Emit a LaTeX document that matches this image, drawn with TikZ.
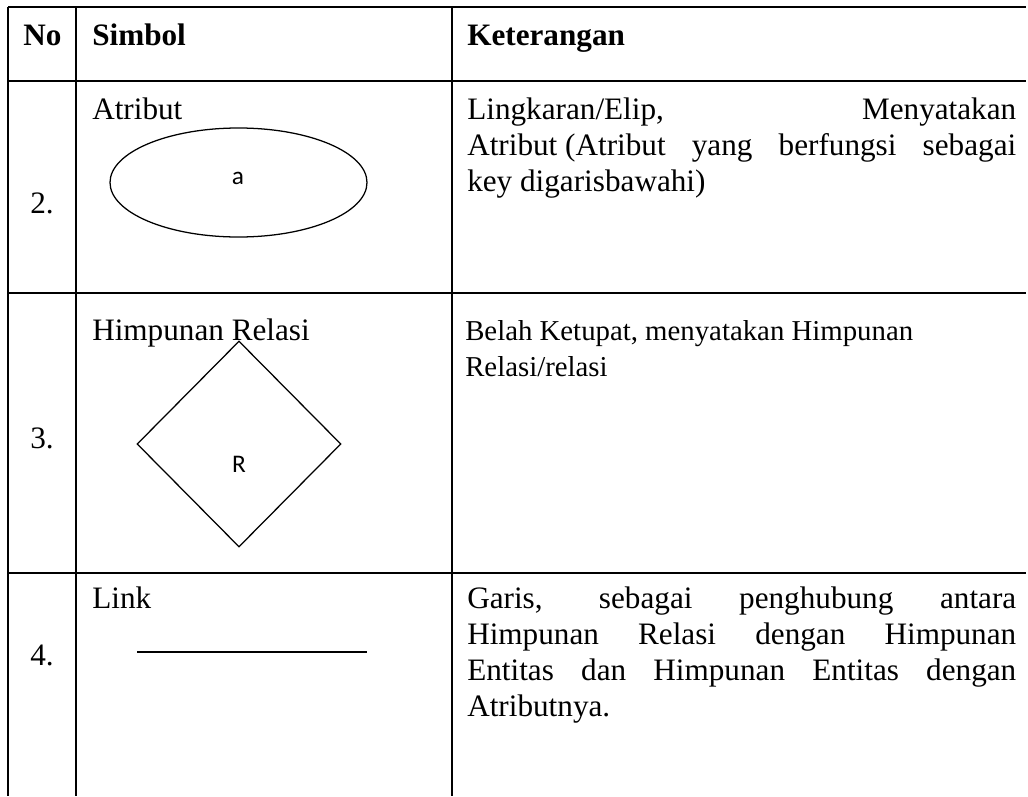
\documentclass[tikz,border=0pt]{standalone}
\usepackage{fontspec}
\setmainfont{Liberation Serif}
\newfontfamily\symfont{Carlito}
\usetikzlibrary{shapes.geometric}

\begin{document}
\begin{tikzpicture}[x=0.75pt,y=-0.75pt,
  grid/.style={line width=0.85pt},
  txt/.style={inner sep=0pt,anchor=base west,font=\fontsize{23.4pt}{28pt}\selectfont},
  smalltxt/.style={inner sep=0pt,anchor=base west,font=\fontsize{21.6pt}{26pt}\selectfont},
  head/.style={txt,font=\fontsize{23.4pt}{28pt}\selectfont\bfseries},
  symtxt/.style={inner sep=0pt,font=\symfont\fontsize{19pt}{22pt}\selectfont},
  shapeline/.style={draw,line width=0.95pt,inner sep=0pt}]
\useasboundingbox (0,0) rectangle (1028,796);
\fill[white] (0,0) rectangle (1028,796);

% table rules
\draw[grid] (8,7) -- (1026,7);
\draw[grid] (8,81) -- (1026,81);
\draw[grid] (8,293) -- (1026,293);
\draw[grid] (8,573) -- (1026,573);
\draw[grid] (8,7) -- (8,796);
\draw[grid] (76,7) -- (76,796);
\draw[grid] (452,7) -- (452,796);

% header
\node[head] (hno) at (23,45) {No};
\node[head] (hsym) at (92,45) {Simbol};
\node[head] (hket) at (467,45) {Keterangan};

% row 2
\node[txt] (n2) at (30,213) {2.};
\node[txt] (s2) at (92,119) {Atribut};
\node[shapeline,ellipse,minimum width=192.75pt,minimum height=81.75pt] (attr) at (238.5,182.5) {};
\node[symtxt] (attrlbl) at (238,178) {a};
\node[txt] (k2a) at (467,119) {\makebox[411.75pt][s]{Lingkaran/Elip, Menyatakan}};
\node[txt] (k2b) at (467,155) {\makebox[411.75pt][s]{Atribut\hspace{0.25em}(Atribut yang berfungsi sebagai}};
\node[txt] (k2c) at (467,191) {key digarisbawahi)};

% row 3
\node[txt] (n3) at (30,448) {3.};
\node[txt] (s3) at (92,340) {Himpunan Relasi};
\node[shapeline,diamond,minimum width=153pt,minimum height=154.5pt] (rel) at (239,444) {};
\node[symtxt] (rellbl) at (239,464) {R};
\node[smalltxt] (k3a) at (465,340) {Belah Ketupat, menyatakan Himpunan};
\node[smalltxt] (k3b) at (465,376) {Relasi/relasi};

% row 4
\node[txt] (n4) at (30,665) {4.};
\node[txt] (s4) at (92,608) {Link};
\coordinate (linkA) at (137,652);
\coordinate (linkB) at (367,652);
\draw[line width=1.6pt] (linkA) -- (linkB);
\node[txt] (k4a) at (467,608) {\makebox[411.75pt][s]{Garis, sebagai penghubung antara}};
\node[txt] (k4b) at (467,644) {\makebox[411.75pt][s]{Himpunan Relasi dengan Himpunan}};
\node[txt] (k4c) at (467,680) {\makebox[411.75pt][s]{Entitas dan Himpunan Entitas dengan}};
\node[txt] (k4d) at (467,716) {Atributnya.};
\end{tikzpicture}
\end{document}
